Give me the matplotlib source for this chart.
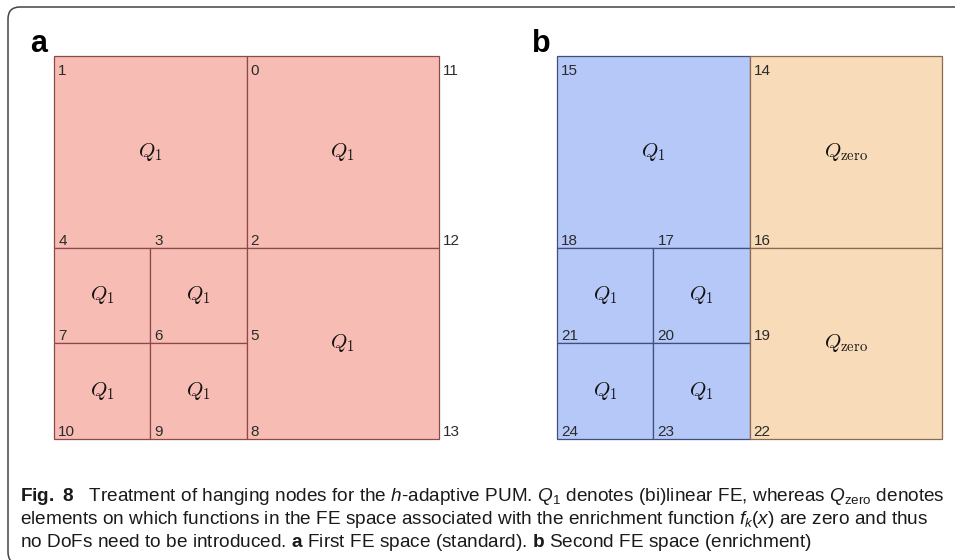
import matplotlib
matplotlib.use("Agg")
import matplotlib.pyplot as plt
from matplotlib.patches import Rectangle, FancyBboxPatch
from matplotlib.transforms import IdentityTransform

# Mesh of panel a: node numbers and their grid coordinates
nodes_a = [0, 1, 2, 3, 4, 5, 6, 7, 8, 9, 10, 11, 12, 13]
node_x_a = [2, 0, 2, 1, 0, 2, 1, 0, 2, 1, 0, 4, 4, 4]
node_y_a = [4, 4, 2, 2, 2, 1, 1, 1, 0, 0, 0, 4, 2, 0]

# Mesh of panel b (right half has no nodes of its own)
nodes_b = [14, 15, 16, 17, 18, 19, 20, 21, 22, 23, 24]
node_x_b = [2, 0, 2, 1, 0, 2, 1, 0, 2, 1, 0]
node_y_b = [4, 4, 2, 2, 2, 1, 1, 1, 0, 0, 0]

# Elements: lower-left corner, edge length, element type
cell_x = [0, 2, 0, 1, 0, 1, 2]
cell_y = [2, 2, 1, 1, 0, 0, 0]
cell_size = [2, 2, 1, 1, 1, 1, 2]
cell_type_a = ["Q1", "Q1", "Q1", "Q1", "Q1", "Q1", "Q1"]
cell_type_b = ["Q1", "Qzero", "Q1", "Q1", "Q1", "Q1", "Qzero"]

type_text = {"Q1": r"$Q_1$", "Qzero": r"$Q_{\mathrm{zero}}$"}

plt.rcParams["mathtext.rm"] = "Liberation Sans"
plt.rcParams["mathtext.it"] = "Liberation Sans:italic"
plt.rcParams["mathtext.bf"] = "Liberation Sans:bold"

fig = plt.figure(figsize=(9.55, 5.6), dpi=100)
W, H = 955, 560


def draw_panel(ax, types, colors, nodes, nx, ny):
    for x0, y0, s, t in zip(cell_x, cell_y, cell_size, types):
        face, edge = colors[t]
        ax.add_patch(Rectangle((x0, y0), s, s, facecolor=face, edgecolor=edge,
                               lw=0.9, clip_on=False))
        ax.text(x0 + s / 2, y0 + s / 2, type_text[t], ha="center", va="center",
                fontsize=15, math_fontfamily="cm", color="#111111")
    for n, x, y in zip(nodes, nx, ny):
        if y == 4:
            off, va = -6.0, "top"
        else:
            off, va = 2.0, "baseline"
        ax.annotate(str(n), (x, y), xytext=(3, off), textcoords="offset points",
                    ha="left", va=va, fontsize=11, family="Liberation Sans",
                    color="#2b2b2b")
    ax.set_xlim(0, 4)
    ax.set_ylim(0, 4)
    ax.axis("off")


ax_a = fig.add_axes([54 / W, 1 - 439 / H, 385 / W, 383 / H])
draw_panel(ax_a, cell_type_a, {"Q1": ("#f7bdb4", "#8a4b48")},
           nodes_a, node_x_a, node_y_a)

ax_b = fig.add_axes([557 / W, 1 - 439 / H, 385 / W, 383 / H])
draw_panel(ax_b, cell_type_b,
           {"Q1": ("#b6c8f7", "#3f4f80"), "Qzero": ("#f8dbb9", "#8a6a50")},
           nodes_b, node_x_b, node_y_b)

# Panel letters
fig.text(30 / W, 1 - 52 / H, "a", fontsize=22, fontweight="bold",
         family="Liberation Sans", va="baseline")
fig.text(532 / W, 1 - 52 / H, "b", fontsize=22, fontweight="bold",
         family="Liberation Sans", va="baseline")

# Caption
caption = [
    r"$\mathbf{Fig.\ 8}$   Treatment of hanging nodes for the $h$-adaptive PUM. "
    r"$Q_1$ denotes (bi)linear FE, whereas $Q_{\mathrm{zero}}$ denotes",
    r"elements on which functions in the FE space associated with the enrichment "
    r"function $f_k(x)$ are zero and thus",
    r"no DoFs need to be introduced. $\mathbf{a}$ First FE space (standard). "
    r"$\mathbf{b}$ Second FE space (enrichment)",
]
baselines = [501, 524, 547]
cap_texts = []
for line, yb in zip(caption, baselines):
    cap_texts.append(fig.text(20 / W, 1 - yb / H, line, fontsize=13, va="baseline",
                              family="Liberation Sans", math_fontfamily="custom",
                              color="#1a1a1a"))

# shrink the caption so the first line spans the same width as the text block
renderer = fig.canvas.get_renderer()
width = cap_texts[0].get_window_extent(renderer).width
size = 13 * 925 / width
for t in cap_texts:
    t.set_fontsize(size)

# Rounded frame around the figure
frame = FancyBboxPatch((8, -4), 970, H - 7 + 4, boxstyle="round,pad=0,rounding_size=12",
                       transform=IdentityTransform(), fill=False,
                       edgecolor="#444444", lw=1.1)
fig.patches.append(frame)

fig.savefig("out.png", dpi=100)
